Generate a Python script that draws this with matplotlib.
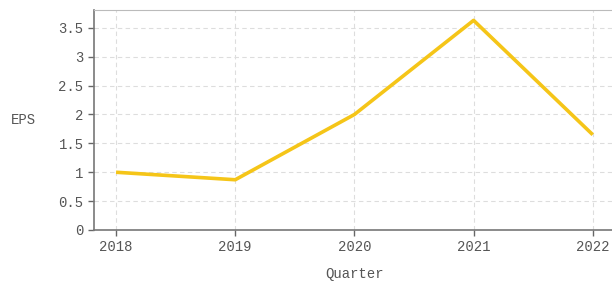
import matplotlib
matplotlib.use("Agg")
import matplotlib.pyplot as plt
from matplotlib.ticker import FuncFormatter

quarters = ["2018", "2019", "2020", "2021", "2022"]
eps = [1.0, 0.87, 2.0, 3.63, 1.65]
yticks = [0, 0.5, 1, 1.5, 2, 2.5, 3, 3.5]

plt.rcParams['font.family'] = ['Liberation Mono', 'DejaVu Sans Mono']
text_color = "#555555"

fig = plt.figure(figsize=(6.12, 2.85), dpi=100)
ax = fig.add_axes([0.1536, 0.193, 0.85, 0.772])

x = list(range(len(quarters)))
ax.plot(x, eps, color="#f5c518", linewidth=2.6, solid_capstyle="butt", zorder=3)

ax.set_xlim(-0.185, 4.18)
ax.set_ylim(0, 3.81)
ax.set_xticks(x)
ax.set_xticklabels(quarters)
ax.set_yticks(yticks)
ax.yaxis.set_major_formatter(FuncFormatter(lambda v, p: f"{v:g}"))

ax.grid(True, linestyle=(0, (4, 3)), color="#dddddd", linewidth=0.8)
ax.tick_params(axis="both", colors="#666666", labelcolor=text_color, labelsize=10,
               length=4, width=1)

for side in ["left", "bottom"]:
    ax.spines[side].set_color("#777777")
    ax.spines[side].set_linewidth(1.2)
ax.spines["top"].set_color("#bbbbbb")
ax.spines["right"].set_visible(False)

ax.set_xlabel("Quarter", color=text_color, fontsize=10, labelpad=9)
ax.set_ylabel("EPS", color=text_color, fontsize=10, rotation=0, va="center", ha="left")
ax.yaxis.set_label_coords(-0.16, 0.5)

fig.savefig("out.png", dpi=100)
